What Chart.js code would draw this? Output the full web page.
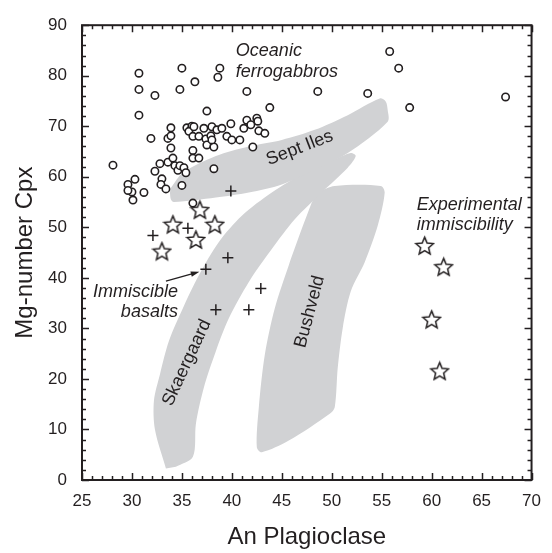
<!DOCTYPE html>
<html lang="en">
<head>
    <meta charset="UTF-8">
    <title>Mg-number Cpx vs An Plagioclase</title>
    <script src="https://cdn.jsdelivr.net/npm/chart.js@4.4.0/dist/chart.umd.min.js"></script>
    <style>
        html, body { margin: 0; padding: 0; background: #fff; }
    </style>
</head>
<body>
    <canvas id="myChart" width="552" height="553"></canvas>

    <script>
        // oceanic ferrogabbros (circles)
        const ferroAn = [28.1, 30.7, 30.7, 30.7, 32.3, 35.0, 34.8, 36.3, 38.8, 38.6, 41.5, 37.5, 43.8, 48.6, 53.6, 55.8, 56.7, 57.8, 67.4,
            31.9, 33.9, 33.6, 33.9, 33.9, 35.5, 36.0, 35.7, 36.1, 36.1, 36.1, 32.8, 32.3, 33.6, 34.1, 34.3, 34.6, 34.8, 35.2, 35.4,
            33.0, 32.9, 33.4, 31.2, 30.3, 29.6, 30.0, 29.6, 30.1, 35.0, 36.1, 39.9, 41.5, 42.5, 42.6, 41.2, 41.9, 42.7, 43.3,
            36.2, 37.2, 38.0, 38.5, 39.0, 36.7, 37.4, 37.9, 39.5, 40.0, 40.8, 37.5, 38.2, 38.0, 36.7, 42.1, 38.2];
        const ferroMg = [62.3, 80.5, 77.3, 72.2, 76.1, 81.5, 77.3, 78.8, 81.5, 79.7, 76.9, 73.0, 73.7, 76.9, 76.5, 84.8, 81.5, 73.7, 75.8,
            67.6, 69.7, 67.6, 68.1, 65.7, 69.7, 70.0, 69.0, 68.0, 65.2, 63.7, 62.6, 61.1, 62.9, 63.7, 62.2, 61.3, 62.2, 61.8, 60.8,
            59.6, 58.5, 57.6, 56.9, 59.5, 58.5, 57.0, 57.3, 55.4, 58.3, 54.8, 70.5, 71.2, 71.6, 71.0, 69.6, 70.3, 69.1, 68.6,
            69.9, 69.6, 69.9, 69.3, 69.6, 68.0, 67.5, 68.1, 68.0, 67.3, 67.3, 66.3, 65.9, 67.3, 63.7, 65.9, 61.6];

        // immiscible basalts (stars) and crosses
        const immAn = [36.8, 34.1, 38.3, 36.4, 33.0];
        const immMg = [53.5, 50.6, 50.6, 47.6, 45.3];
        const crossAn = [32.1, 35.6, 39.6, 37.4, 42.9, 38.4, 41.7, 39.9];
        const crossMg = [48.4, 49.8, 44.0, 41.7, 37.9, 33.7, 33.7, 57.2];

        // experimental immiscibility (stars)
        const expAn = [59.3, 61.2, 60.0, 60.8];
        const expMg = [46.4, 42.2, 31.8, 21.6];

        // trend fields
        const septAn = [33.9, 35.1, 38.4, 41.7, 45.0, 48.3, 51.6, 54.8, 55.4, 55.6, 55.6, 51.6, 48.3, 45.0, 41.7, 38.4, 34.2, 33.9, 33.8];
        const septMg = [57.8, 60.8, 64.1, 66.0, 67.3, 69.3, 72.2, 75.5, 74.9, 73.2, 70.9, 64.7, 61.4, 58.5, 56.9, 55.9, 55.0, 55.5, 56.9];
        const skaerAn = [33.4, 32.3, 32.2, 32.8, 33.7, 35.1, 36.7, 38.7, 41.0, 44.0, 47.3, 50.3, 51.9, 52.4, 51.6, 49.0, 46.3, 44.0, 41.7, 39.7, 38.4, 37.2, 36.4, 36.1, 34.4];
        const skaerMg = [2.3, 10.0, 15.7, 20.9, 27.5, 34.0, 40.5, 47.1, 52.3, 56.9, 60.8, 63.4, 64.7, 64.1, 61.8, 56.9, 51.6, 45.7, 39.2, 32.0, 25.5, 18.3, 11.1, 4.6, 2.6];
        const bushAn = [48.5, 50.3, 54.9, 55.3, 54.6, 53.3, 51.9, 51.1, 50.6, 50.3, 49.8, 45.7, 43.0, 42.5, 42.7, 43.3, 44.3, 45.7, 47.0, 48.0];
        const bushMg = [56.9, 58.2, 58.2, 56.9, 50.3, 43.1, 37.3, 30.1, 22.2, 14.4, 13.1, 7.8, 5.5, 6.5, 14.4, 24.8, 34.0, 42.5, 49.7, 54.9];

        const xTicks = [25, 30, 35, 40, 45, 50, 55, 60, 65, 70];
        const yTicks = [0, 10, 20, 30, 40, 50, 60, 70, 80, 90];

        // labels placed in data units
        const notes = [
            {text: 'Oceanic', x: 40.4, y: 84.9, align: 'left', italic: true, rot: 0},
            {text: 'ferrogabbros', x: 40.4, y: 80.8, align: 'left', italic: true, rot: 0},
            {text: 'Experimental', x: 58.5, y: 54.5, align: 'left', italic: true, rot: 0},
            {text: 'immiscibility', x: 58.5, y: 50.4, align: 'left', italic: true, rot: 0},
            {text: 'Immiscible', x: 34.6, y: 37.3, align: 'right', italic: true, rot: 0},
            {text: 'basalts', x: 34.6, y: 33.3, align: 'right', italic: true, rot: 0},
            {text: 'Sept Iles', x: 46.8, y: 65.7, align: 'center', italic: false, rot: -21},
            {text: 'Skaergaard', x: 35.5, y: 23.2, align: 'center', italic: false, rot: -65},
            {text: 'Bushveld', x: 47.8, y: 33.3, align: 'center', italic: false, rot: -75}
        ];
        const arrowFrom = [33.4, 39.35];
        const arrowTo = [36.75, 41.2];

        const ink = '#231f20';
        const field = '#d1d2d4';
        const fontName = '"Liberation Sans", Arial, Helvetica, sans-serif';

        function pts(xs, ys) {
            return xs.map(function (v, i) { return {x: v, y: ys[i]}; });
        }

        function makeStar(size) {
            const c = document.createElement('canvas');
            c.width = size; c.height = size;
            const g = c.getContext('2d');
            const cx = size / 2, cy = size / 2 + 0.9, R = size / 2 - 1.2, r = R * 0.45;
            g.beginPath();
            for (let i = 0; i < 10; i++) {
                const a = -Math.PI / 2 + i * Math.PI / 5;
                const rr = i % 2 ? r : R;
                g.lineTo(cx + rr * Math.cos(a), cy + rr * Math.sin(a));
            }
            g.closePath();
            g.fillStyle = '#fff';
            g.fill();
            g.lineWidth = 1.5;
            g.strokeStyle = ink;
            g.stroke();
            return c;
        }
        const star = makeStar(21);

        function fieldSet(xs, ys) {
            return {
                data: pts(xs, ys),
                showLine: true,
                fill: 'shape',
                backgroundColor: field,
                borderColor: field,
                borderWidth: 0,
                pointRadius: 0,
                tension: 0.3,
                order: 10
            };
        }

        const frame = {
            id: 'frame',
            afterDraw(chart) {
                const {ctx, chartArea: a, scales: {x, y}} = chart;
                ctx.save();
                ctx.strokeStyle = ink;
                ctx.lineWidth = 1.5;
                ctx.beginPath();
                for (let v = 25; v <= 70; v++) {
                    const px = Math.round(x.getPixelForValue(v)) + 0.5;
                    const L = v % 5 === 0 ? 7 : 4;
                    ctx.moveTo(px, a.bottom); ctx.lineTo(px, a.bottom - L);
                    ctx.moveTo(px, a.top); ctx.lineTo(px, a.top + L);
                }
                for (let v = 0; v <= 90; v += 2) {
                    const py = Math.round(y.getPixelForValue(v)) + 0.5;
                    const L = v % 10 === 0 ? 7 : 4;
                    ctx.moveTo(a.left, py); ctx.lineTo(a.left + L, py);
                    ctx.moveTo(a.right, py); ctx.lineTo(a.right - L, py);
                }
                ctx.stroke();
                ctx.lineWidth = 2;
                ctx.strokeRect(a.left, a.top, a.right - a.left, a.bottom - a.top);

                // texts
                ctx.fillStyle = ink;
                ctx.textBaseline = 'middle';
                notes.forEach(function (n) {
                    ctx.save();
                    ctx.translate(x.getPixelForValue(n.x), y.getPixelForValue(n.y));
                    ctx.rotate(n.rot * Math.PI / 180);
                    ctx.font = (n.italic ? 'italic ' : '') + '18px ' + fontName;
                    ctx.textAlign = n.align;
                    ctx.fillText(n.text, 0, 0);
                    ctx.restore();
                });

                // arrow
                const x0 = x.getPixelForValue(arrowFrom[0]), y0 = y.getPixelForValue(arrowFrom[1]);
                const x1 = x.getPixelForValue(arrowTo[0]), y1 = y.getPixelForValue(arrowTo[1]);
                const ang = Math.atan2(y1 - y0, x1 - x0);
                ctx.lineWidth = 1.3;
                ctx.beginPath();
                ctx.moveTo(x0, y0);
                ctx.lineTo(x1 - 6 * Math.cos(ang), y1 - 6 * Math.sin(ang));
                ctx.stroke();
                ctx.beginPath();
                ctx.moveTo(x1, y1);
                ctx.lineTo(x1 - 9 * Math.cos(ang - 0.3), y1 - 9 * Math.sin(ang - 0.3));
                ctx.lineTo(x1 - 9 * Math.cos(ang + 0.3), y1 - 9 * Math.sin(ang + 0.3));
                ctx.closePath();
                ctx.fill();
                ctx.restore();
            }
        };

        const ctx = document.getElementById('myChart');
        const myChart = new Chart(ctx, {
            type: 'scatter',
            data: {
                datasets: [
                    fieldSet(septAn, septMg),
                    fieldSet(skaerAn, skaerMg),
                    fieldSet(bushAn, bushMg),
                    {
                        data: pts(ferroAn, ferroMg),
                        pointStyle: 'circle',
                        pointRadius: 3.7,
                        borderWidth: 1.6,
                        borderColor: ink,
                        backgroundColor: '#fff',
                        order: 3
                    },
                    {
                        data: pts(crossAn, crossMg),
                        pointStyle: 'cross',
                        pointRadius: 5.5,
                        borderWidth: 1.5,
                        borderColor: ink,
                        order: 2
                    },
                    {
                        data: pts(immAn, immMg),
                        pointStyle: star,
                        order: 1
                    },
                    {
                        data: pts(expAn, expMg),
                        pointStyle: star,
                        order: 1
                    }
                ]
            },
            options: {
                responsive: false,
                animation: false,
                layout: { padding: { top: 21, right: 17, left: 0, bottom: 0 } },
                plugins: {
                    legend: { display: false },
                    tooltip: { enabled: false }
                },
                scales: {
                    x: {
                        type: 'linear',
                        min: 25,
                        max: 70,
                        afterBuildTicks(s) { s.ticks = xTicks.map(function (v) { return {value: v}; }); },
                        afterFit(s) { s.height = 73; },
                        grid: { display: false, drawTicks: false },
                        border: { display: false },
                        ticks: { padding: 11, color: ink, font: { family: fontName, size: 17 } },
                        title: {
                            display: true,
                            text: 'An Plagioclase',
                            color: ink,
                            font: { family: fontName, size: 24 },
                            padding: { top: 0, bottom: 1 }
                        }
                    },
                    y: {
                        type: 'linear',
                        min: 0,
                        max: 90,
                        afterBuildTicks(s) { s.ticks = yTicks.map(function (v) { return {value: v}; }); },
                        afterFit(s) { s.width = 82; },
                        grid: { display: false, drawTicks: false },
                        border: { display: false },
                        ticks: { padding: 15, color: ink, font: { family: fontName, size: 17 } },
                        title: {
                            display: true,
                            text: 'Mg-number Cpx',
                            color: ink,
                            font: { family: fontName, size: 24 },
                            padding: { top: 11, bottom: 0 }
                        }
                    }
                }
            },
            plugins: [frame]
        });
    </script>
</body>
</html>
